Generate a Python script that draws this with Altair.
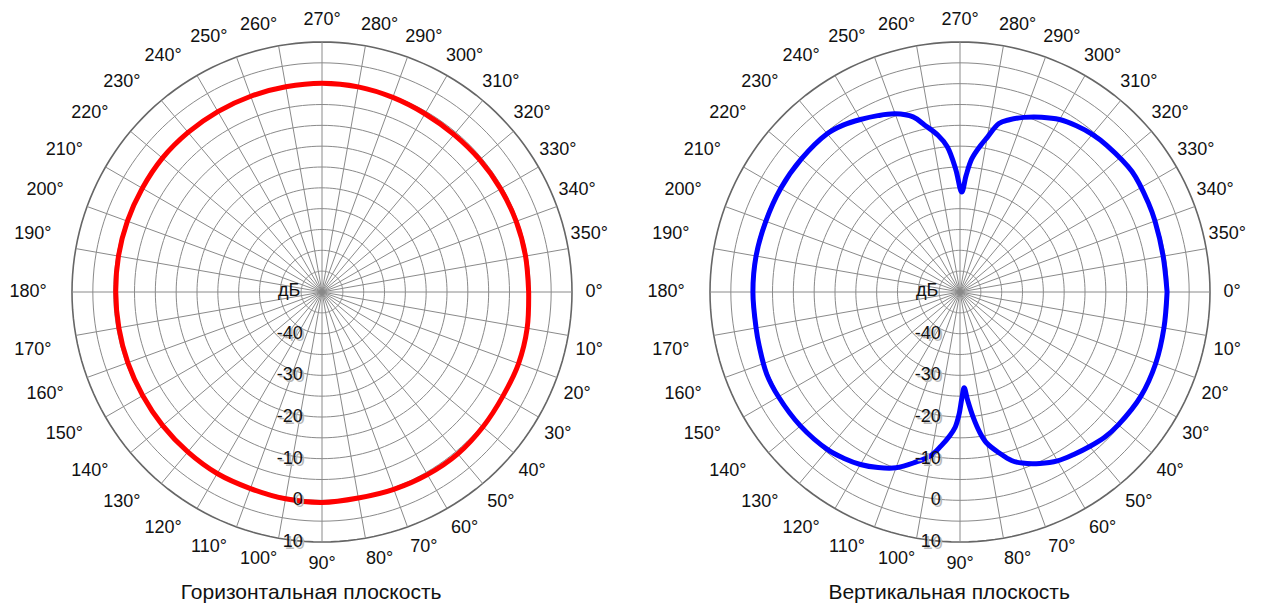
import altair as alt
import pandas as pd

# ---------------- data ----------------
ring_db = [-45, -40, -35, -30, -25, -20, -15, -10, -5, 0, 5, 10]
spoke_angles = list(range(0, 360, 10))
angle_labels = [f"{a}°" for a in spoke_angles]
radial_ticks = [-40, -30, -20, -10, 0, 10]
radial_labels = ["-40", "-30", "-20", "-10", "0", "10"]
unit_label = "дБ"
titles = ["Горизонтальная плоскость", "Вертикальная плоскость"]

h_angles = [0, 10, 20, 30, 40, 50, 60, 70, 80, 90, 100, 110, 120, 130, 140, 150, 160, 170,
            180, 190, 200, 210, 220, 230, 240, 250, 260, 270, 280, 290, 300, 310, 320, 330,
            340, 350, 360]
h_db = [-0.4, 0.0, 0.2, 0.1, 0.4, 0.7, 0.6, 0.4, 0.2, 0.5, 0.4, 0.2, 0.3, 0.1, -0.1, -0.3,
        -0.4, -0.5, -0.5, -0.4, -0.3, -0.2, 0.0, 0.0, 0.0, 0.0, 0.0, 0.1, 0.0, -0.3, -0.6,
        -0.7, -0.6, -0.5, -0.4, -0.4, -0.4]

v_angles = [0, 10, 20, 30, 40, 45, 50, 55, 60, 65, 70, 73, 76, 80, 82, 84, 86, 87.5, 89,
            90.5, 92, 94, 97, 100, 105, 110, 115, 120, 125, 130, 140, 150, 157, 165, 170,
            180, 190, 200, 210, 220, 230, 235, 240, 245, 250, 255, 258, 262, 265, 268, 271,
            273, 275, 278, 280, 283, 286, 290, 295, 300, 305, 310, 315, 325, 335, 340, 350, 360]
v_db = [-0.3, -0.3, 0.0, 0.1, -0.4, -0.8, -1.6, -2.4, -3.2, -4.6, -6.3, -7.7, -10.0, -13.2,
        -16.0, -19.8, -24.0, -27.0, -24.5, -20.5, -17.6, -15.5, -12.8, -10.2, -7.6, -5.1,
        -3.5, -2.2, -1.3, -0.6, 0.0, 0.3, 0.4, -0.1, -0.3, -0.3, -0.3, -0.4, -0.3, -0.3,
        -0.4, -1.1, -2.2, -3.3, -4.5, -6.5, -9.0, -12.0, -15.0, -20.5, -26.0, -22.0, -18.0,
        -14.5, -12.3, -8.5, -7.0, -5.4, -3.7, -2.2, -1.3, -0.6, -0.2, 0.4, 0.0, -0.2, -0.5, -0.3]

panels = [0, 1]

# ---------------- layout ----------------
FONT = "Liberation Sans, Arial, sans-serif"
W, H = 1251, 596
XDOM = [-75.36, 224.88]     # 4.1667 px per dB unit
YDOM = [-74.88, 68.16]
CX = "datum.panel == 1 ? 153.12 : 0"
GRID = "#8a8a8a"

xs = alt.Scale(domain=XDOM, nice=False, zero=False)
ys = alt.Scale(domain=YDOM, nice=False, zero=False)


def X(f):
    return alt.X(f, scale=xs, axis=None)


def Y(f):
    return alt.Y(f, scale=ys, axis=None)


# rings
ring_pts = pd.DataFrame([(p, d, a) for p in panels for d in ring_db for a in range(0, 362, 2)],
                        columns=["panel", "db", "ang"])
rings = alt.Chart(ring_pts).transform_calculate(
    cx=CX,
    r="datum.db + 50",
    x="datum.cx + datum.r*cos(datum.ang*PI/180)",
    y="-datum.r*sin(datum.ang*PI/180)",
    outer="datum.db == 10 ? 'o' : 'i'",
).mark_line().encode(
    x=X("x:Q"), y=Y("y:Q"), detail=["panel:N", "db:N"], order="ang:Q",
    color=alt.Color("outer:N", scale=alt.Scale(domain=["i", "o"], range=[GRID, "#666666"]),
                    legend=None),
    strokeWidth=alt.StrokeWidth("outer:N", scale=alt.Scale(domain=["i", "o"], range=[1, 1.6]),
                                legend=None),
)

spk = pd.DataFrame([(p, a) for p in panels for a in spoke_angles], columns=["panel", "ang"])
spokes = alt.Chart(spk).transform_calculate(
    cx=CX,
    x="datum.cx + 60*cos(datum.ang*PI/180)",
    y="-60*sin(datum.ang*PI/180)",
    x0="datum.cx", y0="0",
).mark_rule(color=GRID, strokeWidth=1).encode(
    x=X("x:Q"), y=Y("y:Q"), x2="x0:Q", y2="y0:Q"
)

lab = pd.DataFrame([(p, a, l) for p in panels for a, l in zip(spoke_angles, angle_labels)],
                   columns=["panel", "ang", "label"])
alabels = alt.Chart(lab).transform_calculate(
    cx=CX,
    a="datum.ang*PI/180",
    d="2.3*cos(2*datum.a)*max(-1, min(1, 6*sin(2*datum.a)))",
    b="(datum.ang + datum.d)*PI/180",
    R="272 + 4*abs(sin(2*datum.a))",
    px="datum.R*cos(datum.b) - 22*min(1, 1.5*max(0, -cos(datum.a)))",
    py="datum.R*sin(datum.b)",
    x="datum.cx + datum.px*0.24",
    y="-datum.py*0.24",
).mark_text(font=FONT, fontSize=18, color="#111111", align="center", baseline="middle").encode(
    x=X("x:Q"), y=Y("y:Q"), text="label:N"
)

rdf = pd.DataFrame([(p, d, l) for p in panels for d, l in zip(radial_ticks, radial_labels)],
                   columns=["panel", "db", "label"])
rbase = alt.Chart(rdf).transform_calculate(
    cx=CX, x="datum.cx - 4.6", y="-(datum.db + 50)"
)
rshadow = rbase.mark_text(font=FONT, fontSize=18, color="#b8b8b8", align="right",
                          baseline="middle", dx=2, dy=2).encode(
    x=X("x:Q"), y=Y("y:Q"), text="label:N")
rtext = rbase.mark_text(font=FONT, fontSize=18, color="#111111", align="right",
                        baseline="middle").encode(
    x=X("x:Q"), y=Y("y:Q"), text="label:N")

udf = pd.DataFrame({"panel": panels, "label": [unit_label, unit_label]})
ulabel = alt.Chart(udf).transform_calculate(
    cx=CX, x="datum.cx - 5.2", y="0.3"
).mark_text(font=FONT, fontSize=18, color="#111111", align="right", baseline="middle").encode(
    x=X("x:Q"), y=Y("y:Q"), text="label:N")


def curve(angles, dbs, panel, color):
    df = pd.DataFrame({"ang": angles, "db": dbs, "panel": panel})
    return alt.Chart(df).transform_calculate(
        cx=CX,
        r="datum.db + 50",
        x="datum.cx + datum.r*cos(datum.ang*PI/180)",
        y="-datum.r*sin(datum.ang*PI/180)",
    ).mark_line(color=color, strokeWidth=5, strokeJoin="round", strokeCap="round",
                interpolate="catmull-rom").encode(
        x=X("x:Q"), y=Y("y:Q"), order="ang:Q"
    )


red = curve(h_angles, h_db, 0, "#ff0000")
blue = curve(v_angles, v_db, 1, "#0000ff")

tdf = pd.DataFrame({"panel": panels, "label": titles})
ttl = alt.Chart(tdf).transform_calculate(
    cx=CX, x="datum.cx - 2.6", y="-72.2"
).mark_text(font=FONT, fontSize=21, color="#111111", align="center", baseline="middle").encode(
    x=X("x:Q"), y=Y("y:Q"), text="label:N")

chart = alt.layer(rings, spokes, red, blue, rshadow, rtext, ulabel, alabels, ttl).properties(
    width=W, height=H, padding=0, background="white",
    autosize=alt.AutoSizeParams(type="none"),
).configure_view(stroke=None)

chart.save("out.html", embed_options={"renderer": "svg", "actions": False})
